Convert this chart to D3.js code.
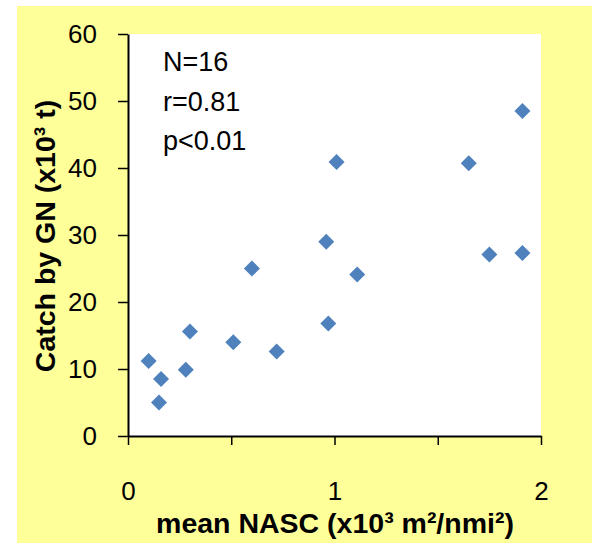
<!DOCTYPE html>
<html>
<head>
<meta charset="utf-8">
<script src="https://cdn.jsdelivr.net/npm/d3@7"></script>
<style>
  body { margin: 0; background: #fff; }
  text { font-family: "Liberation Sans", Arial, sans-serif; }
</style>
</head>
<body>
<svg id="chart" width="594" height="543"></svg>
<script>
// mean NASC (x10^3 m2/nmi2)
var nascValues = [0.10, 0.16, 0.15, 0.28, 0.30, 0.51, 0.72, 0.60, 0.97, 0.96, 1.11, 1.01, 1.91, 1.65, 1.75, 1.91];
// catch by GN (x10^3 t)
var catchValues = [11.2, 8.5, 5.0, 9.9, 15.6, 14.0, 12.6, 25.0, 16.8, 29.0, 24.1, 40.9, 48.5, 40.7, 27.1, 27.3];

var xTickValues = [0, 0.5, 1, 1.5, 2];
var xTickLabels = ["0", "", "1", "", "2"];
var yTickValues = [0, 10, 20, 30, 40, 50, 60];
var statsLines = ["N=16", "r=0.81", "p<0.01"];

var points = nascValues.map((d, i) => ({ x: d, y: catchValues[i] }));

var svg = d3.select("#chart");

var margin = { left: 128, right: 53, top: 34, bottom: 107 };
var width = 594, height = 543;

// yellow background panel
svg.append("rect")
  .attr("x", 17).attr("y", 6)
  .attr("width", 575).attr("height", 537)
  .attr("fill", "#ffff99");

// white plot area
svg.append("rect")
  .attr("x", margin.left).attr("y", margin.top)
  .attr("width", width - margin.left - margin.right)
  .attr("height", height - margin.top - margin.bottom)
  .attr("fill", "#ffffff");

var xScale = d3.scaleLinear()
  .domain([0, 2])
  .range([margin.left, width - margin.right]);

var yScale = d3.scaleLinear()
  .domain([0, 60])
  .range([height - margin.bottom, margin.top]);

// x axis
var xAxis = svg.append("g")
  .attr("transform", `translate(0, ${height - margin.bottom})`)
  .call(d3.axisBottom(xScale)
    .tickValues(xTickValues)
    .tickSize(9)
    .tickSizeOuter(0)
    .tickFormat((d, i) => xTickLabels[i]));

xAxis.selectAll("text")
  .attr("dy", 0)
  .attr("y", 64)
  .attr("font-size", 26)
  .attr("fill", "#000");

// y axis
var yAxis = svg.append("g")
  .attr("transform", `translate(${margin.left}, 0)`)
  .call(d3.axisLeft(yScale)
    .tickValues(yTickValues)
    .tickSize(10)
    .tickSizeOuter(0)
    .tickFormat(d3.format("d")));

yAxis.selectAll("text")
  .attr("x", -31)
  .attr("font-size", 26)
  .attr("fill", "#000");

svg.selectAll(".domain").attr("stroke", "#000").attr("stroke-width", 2);
svg.selectAll(".tick line").attr("stroke", "#000").attr("stroke-width", 1.5);

// points (diamonds)
svg.selectAll("path.point")
  .data(points)
  .enter()
  .append("path")
  .attr("class", "point")
  .attr("d", "M0,-8L8,0L0,8L-8,0Z")
  .attr("transform", (d) => `translate(${xScale(d.x)}, ${yScale(d.y)})`)
  .attr("fill", "#4f81bd");

// stats text
svg.selectAll("text.stats")
  .data(statsLines)
  .enter()
  .append("text")
  .attr("class", "stats")
  .attr("x", 163)
  .attr("y", (d, i) => 71 + i * 39.5)
  .attr("font-size", 27)
  .attr("fill", "#000")
  .text((d) => d);

// axis titles
svg.append("text")
  .attr("x", 335)
  .attr("y", 533)
  .attr("text-anchor", "middle")
  .attr("font-size", 28.5)
  .attr("font-weight", "bold")
  .text("mean NASC (x10³ m²/nmi²)");

svg.append("text")
  .attr("transform", "translate(55, 236) rotate(-90)")
  .attr("text-anchor", "middle")
  .attr("font-size", 28.5)
  .attr("font-weight", "bold")
  .text("Catch by GN (x10³ t)");
</script>
</body>
</html>
